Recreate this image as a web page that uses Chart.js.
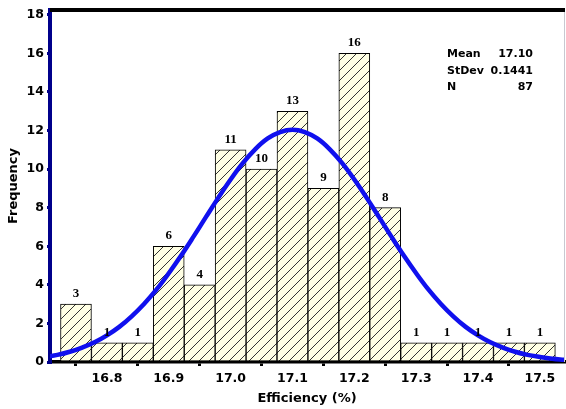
<!DOCTYPE html>
<html>
<head>
<meta charset="utf-8">
<script src="https://cdn.jsdelivr.net/npm/chart.js@4.4.1/dist/chart.umd.min.js"></script>
<style>
  html, body { margin: 0; padding: 0; background: #ffffff; }
  #wrap { width: 566px; height: 409px; }
</style>
</head>
<body>
<div id="wrap"><canvas id="c" width="566" height="409"></canvas></div>
<script>
// ---- data ----
const binCenters = [16.75, 16.80, 16.85, 16.90, 16.95, 17.00, 17.05, 17.10, 17.15, 17.20, 17.25, 17.30, 17.35, 17.40, 17.45, 17.50];
const counts     = [3, 1, 1, 6, 4, 11, 10, 13, 9, 16, 8, 1, 1, 1, 1, 1];

const curveX = [16.70, 16.72, 16.74, 16.76, 16.78, 16.80, 16.82, 16.84, 16.86, 16.88, 16.90, 16.92, 16.94, 16.96, 16.98,
                17.00, 17.02, 17.04, 17.06, 17.08, 17.10, 17.12, 17.14, 17.16, 17.18, 17.20, 17.22, 17.24, 17.26, 17.28,
                17.30, 17.32, 17.34, 17.36, 17.38, 17.40, 17.42, 17.44, 17.46, 17.48, 17.50, 17.52, 17.54];
const curveY = [0.26, 0.37, 0.53, 0.75, 1.02, 1.38, 1.82, 2.37, 3.01, 3.75, 4.60, 5.52, 6.50, 7.51, 8.51,
                9.46, 10.32, 11.04, 11.59, 11.92, 12.04, 11.92, 11.59, 11.04, 10.32, 9.46, 8.51, 7.51, 6.50, 5.52,
                4.60, 3.75, 3.01, 2.37, 1.82, 1.38, 1.02, 0.75, 0.53, 0.37, 0.26, 0.17, 0.11];

const xTicks = [16.8, 16.9, 17.0, 17.1, 17.2, 17.3, 17.4, 17.5];
const yTicks = [0, 2, 4, 6, 8, 10, 12, 14, 16, 18];

const statLabels = ['Mean', 'StDev', 'N'];
const statValues = ['17.10', '0.1441', '87'];

const xTitle = 'Efficiency (%)';
const yTitle = 'Frequency';

// ---- hatch pattern ----
function makeHatch() {
  const s = 10;
  const p = document.createElement('canvas');
  p.width = s; p.height = s;
  const g = p.getContext('2d');
  g.fillStyle = '#FFFFE4';
  g.fillRect(0, 0, s, s);
  g.strokeStyle = '#333333';
  g.lineWidth = 1;
  g.beginPath();
  g.moveTo(-1, s + 1); g.lineTo(s + 1, -1);
  g.moveTo(-1, 1); g.lineTo(1, -1);
  g.moveTo(s - 1, s + 1); g.lineTo(s + 1, s - 1);
  g.stroke();
  return document.getElementById('c').getContext('2d').createPattern(p, 'repeat');
}
const hatch = makeHatch();

const SANS = "'DejaVu Sans', Verdana, sans-serif";

const barLabels = {
  id: 'barLabels',
  afterDatasetsDraw(chart) {
    const ctx = chart.ctx;
    const meta = chart.getDatasetMeta(0);
    ctx.save();
    ctx.font = "bold 13px 'Liberation Serif', 'Times New Roman', serif";
    ctx.fillStyle = '#000';
    ctx.textAlign = 'center';
    ctx.textBaseline = 'bottom';
    meta.data.forEach((el, i) => {
      ctx.fillText(String(counts[i]), el.x, el.y - 4);
    });
    ctx.restore();
  }
};

const frame = {
  id: 'frame',
  beforeDatasetsDraw(chart) {
    const a = chart.chartArea, ctx = chart.ctx;
    ctx.save();
    ctx.strokeStyle = '#c8c8d0';
    ctx.lineWidth = 1;
    ctx.beginPath();
    ctx.moveTo(a.right + 0.5, a.top);
    ctx.lineTo(a.right + 0.5, a.bottom);
    ctx.stroke();
    ctx.restore();
  },
  afterDraw(chart) {
    const a = chart.chartArea, ctx = chart.ctx;
    ctx.save();
    ctx.fillStyle = '#000';
    ctx.fillRect(a.left, a.top - 2, a.right - a.left + 1, 4);
    // stats box
    ctx.font = 'bold 11px ' + SANS;
    ctx.textBaseline = 'middle';
    const lx = a.right - 117, rx = a.right - 31;
    statLabels.forEach((t, i) => {
      const y = a.top + 44 + i * 16.8;
      ctx.textAlign = 'left';
      ctx.fillText(t, lx, y);
      ctx.textAlign = 'right';
      ctx.fillText(statValues[i], rx, y);
    });
    ctx.restore();
  }
};

new Chart(document.getElementById('c'), {
  type: 'bar',
  data: {
    datasets: [
      {
        type: 'bar',
        data: binCenters.map((x, i) => ({ x: x, y: counts[i] })),
        backgroundColor: hatch,
        borderColor: '#000',
        borderWidth: 1,
        barPercentage: 1,
        categoryPercentage: 1,
        grouped: false,
        order: 2
      },
      {
        type: 'line',
        data: curveX.map((x, i) => ({ x: x, y: curveY[i] })),
        borderColor: '#1010EE',
        borderWidth: 4.5,
        pointRadius: 0,
        fill: false,
        tension: 0.4,
        order: 1
      }
    ]
  },
  options: {
    responsive: false,
    devicePixelRatio: 1,
    animation: false,
    layout: { padding: { top: 10, right: 2, left: 0, bottom: 0 } },
    plugins: { legend: { display: false }, tooltip: { enabled: false } },
    scales: {
      x: {
        type: 'linear',
        min: 16.708,
        max: 17.539,
        offset: false,
        afterBuildTicks: s => { s.ticks = xTicks.map(v => ({ value: v })); },
        afterFit: s => { s.height = 47; s.paddingLeft = 0; s.paddingRight = 0; },
        border: { color: '#000', width: 3.5 },
        grid: { drawOnChartArea: false, drawTicks: true, tickLength: 4, color: '#000', lineWidth: 3 },
        ticks: {
          color: '#000', padding: 5, maxRotation: 0, autoSkip: false,
          font: { family: SANS, size: 12.5, weight: 'bold' },
          callback: v => Number(v).toFixed(1)
        },
        title: {
          display: true, text: xTitle, color: '#000',
          font: { family: SANS, size: 13, weight: 'bold' },
          padding: { top: 0, bottom: 3 }
        }
      },
      y: {
        min: 0,
        max: 18.25,
        afterBuildTicks: s => { s.ticks = yTicks.map(v => ({ value: v })); },
        afterFit: s => { s.width = 50; s.paddingTop = 0; s.paddingBottom = 0; },
        border: { color: '#00008B', width: 4 },
        grid: { drawOnChartArea: false, drawTicks: true, tickLength: 3, color: '#00008B', lineWidth: 3 },
        ticks: {
          color: '#000', padding: 3,
          font: { family: SANS, size: 12.5, weight: 'bold' },
          callback: v => String(v)
        },
        title: {
          display: true, text: yTitle, color: '#000',
          font: { family: SANS, size: 13, weight: 'bold' },
          padding: { top: 6, bottom: 0 }
        }
      }
    }
  },
  plugins: [frame, barLabels]
});
</script>
</body>
</html>
